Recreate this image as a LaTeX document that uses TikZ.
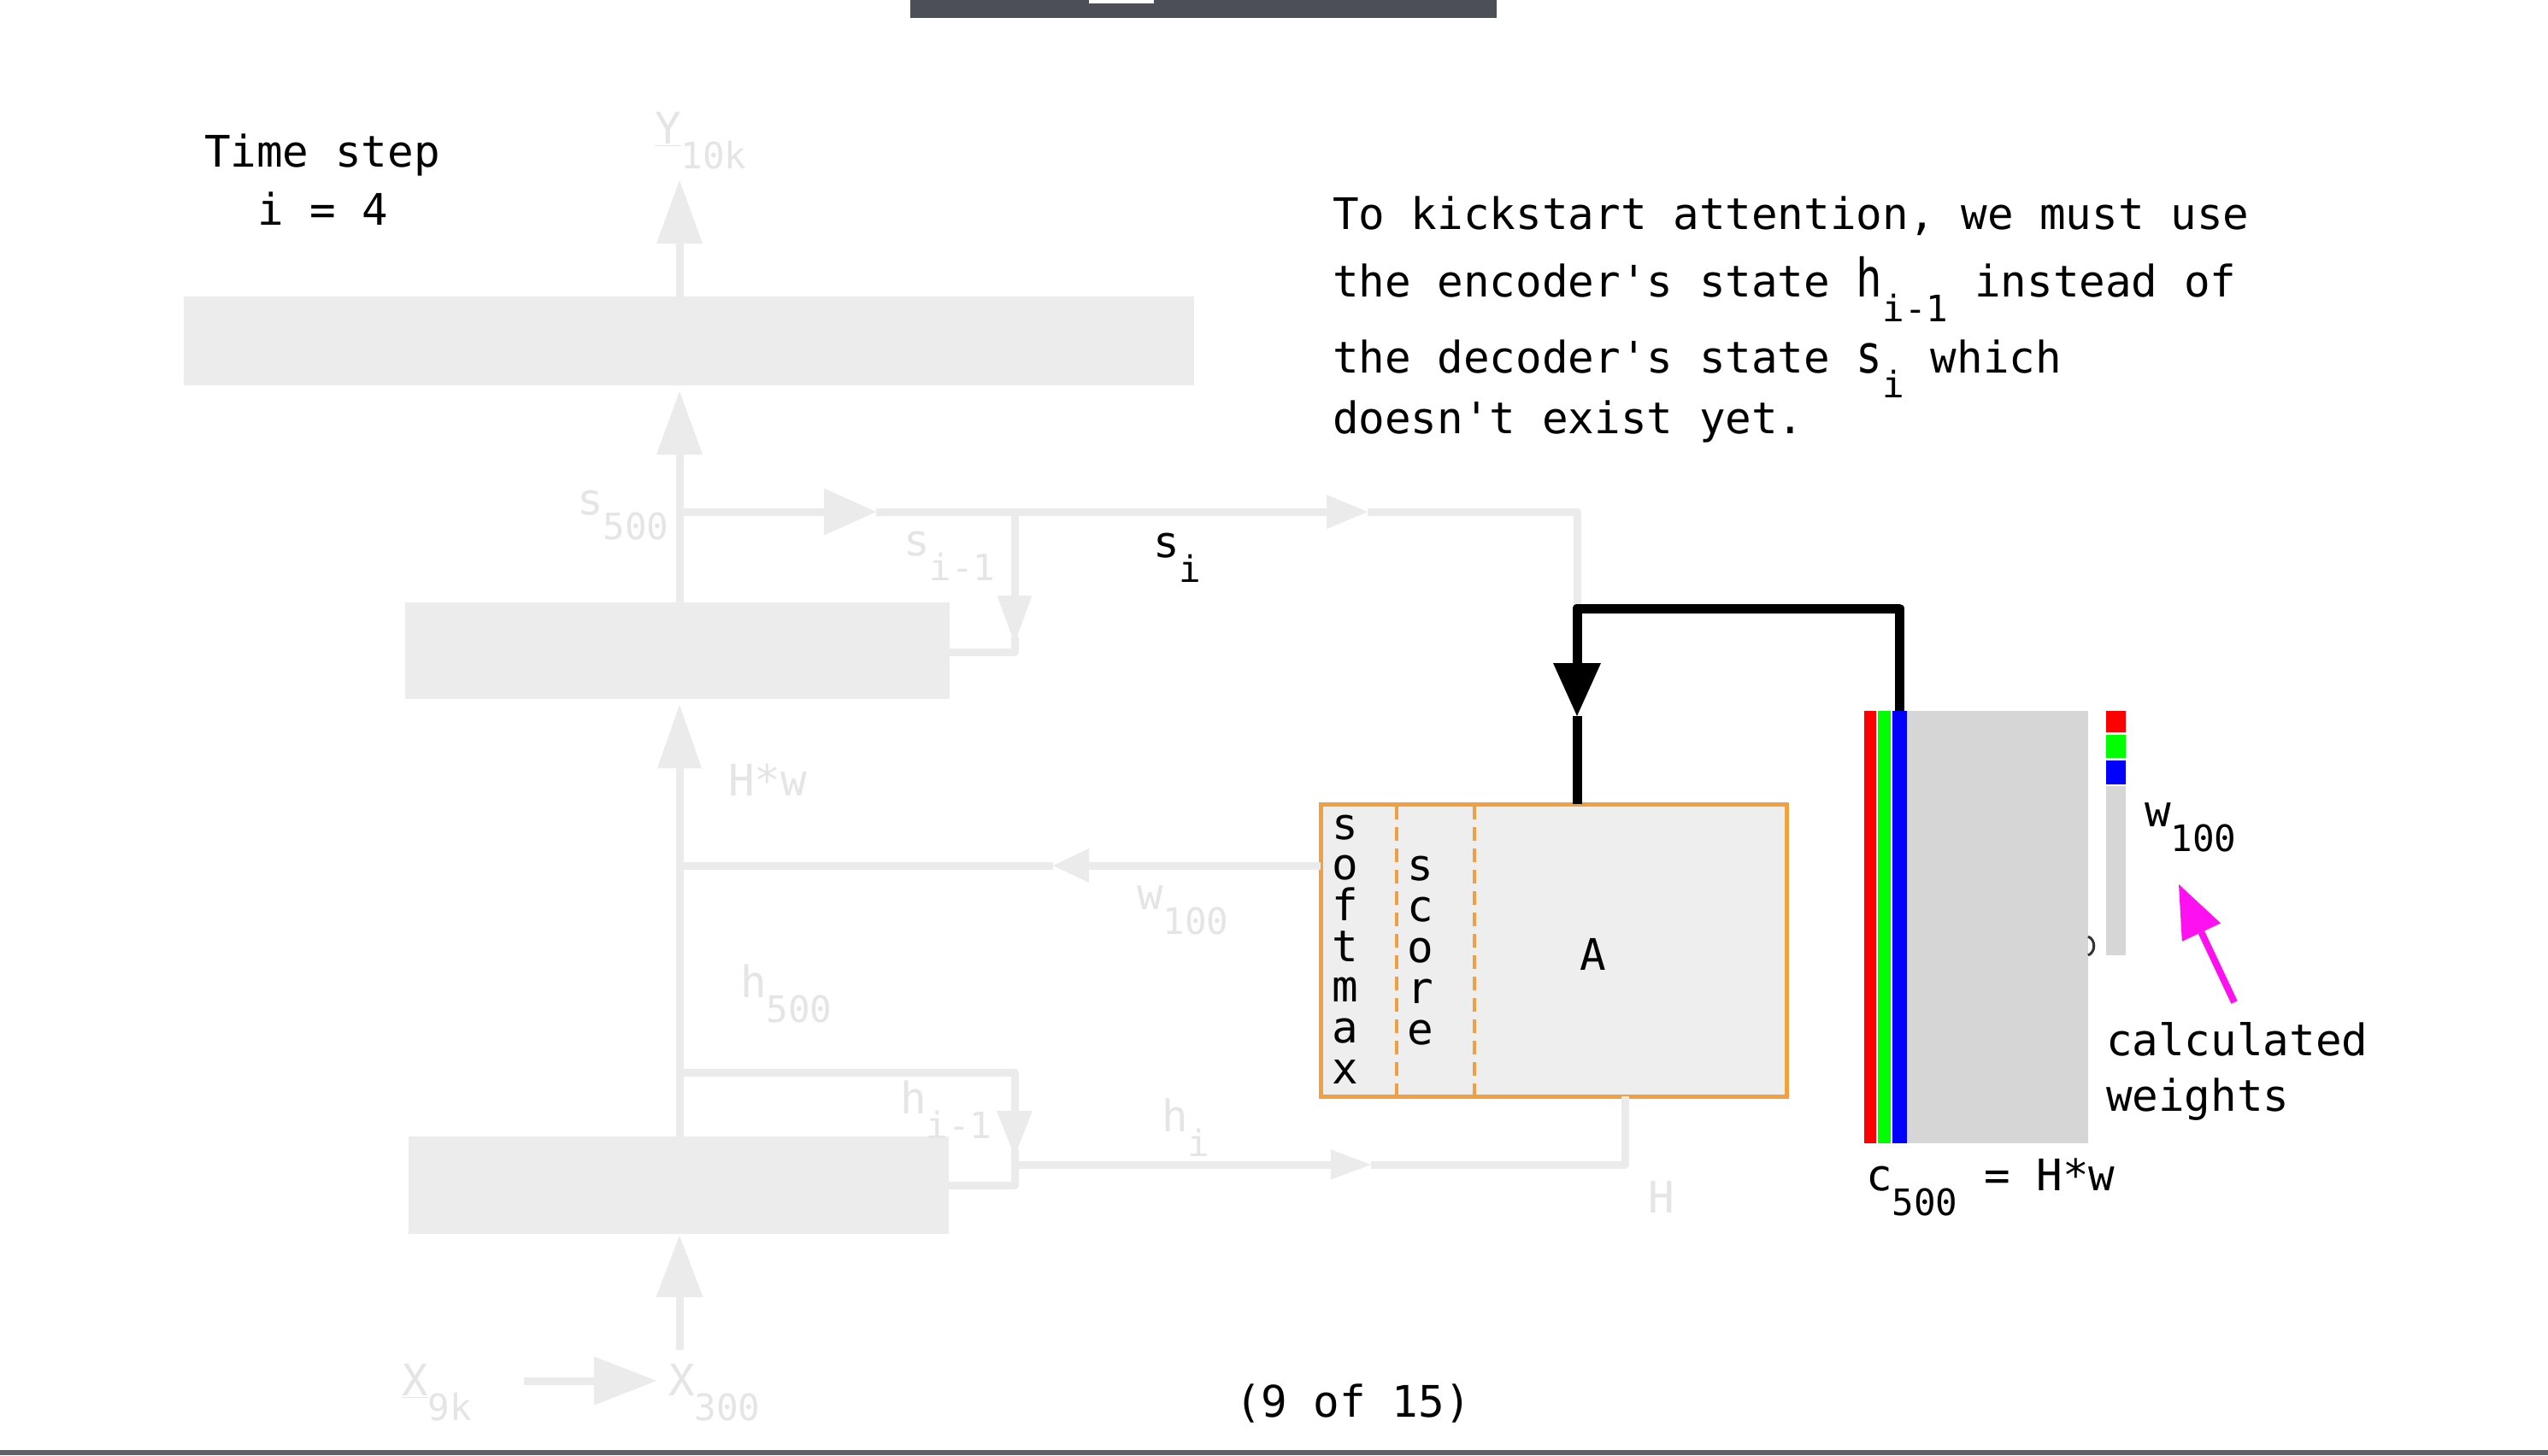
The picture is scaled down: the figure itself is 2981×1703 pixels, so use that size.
\documentclass[tikz,border=0pt]{standalone}
\usepackage{fontspec}
\setmainfont{DejaVu Sans Mono}[Ligatures=TeXOff]
\usepackage{graphicx}
\usetikzlibrary{arrows.meta}
\definecolor{faint}{HTML}{EBEBEB}
\definecolor{faintbox}{HTML}{ECECEC}
\definecolor{fainttxt}{HTML}{E5E5E5}
\definecolor{orng}{RGB}{240,160,64}
\definecolor{aboxc}{HTML}{EEEEEE}
\definecolor{matc}{HTML}{D6D6D6}
\definecolor{rdc}{RGB}{255,0,0}
\definecolor{grc}{RGB}{0,255,0}
\definecolor{blc}{RGB}{0,0,255}
\definecolor{mgn}{RGB}{255,16,240}
\definecolor{topbar}{HTML}{4C4F55}
\definecolor{botbar}{HTML}{5D6269}
\newcommand\sbs[1]{\raisebox{-14.5pt}{\fontsize{21.3pt}{21.3pt}\selectfont #1}}
\newcommand\tallch[1]{\scalebox{1}[1.22]{#1}}
\tikzset{
  txt/.style={inner sep=0pt, outer sep=0pt, anchor=base west, font=\fontsize{25.45pt}{30pt}\selectfont, text=black},
  ftxt/.style={txt, text=fainttxt},
  fbox/.style={fill=faintbox, draw=none, inner sep=0pt, outer sep=0pt},
  cell/.style={draw=none, inner sep=0pt, outer sep=0pt},
  fline/.style={draw=faint, line width=4.5pt},
  blk/.style={draw=black, line width=5.5pt, line join=round},
  tri/.style 2 args={-{Triangle[length=#1,width=#2,line width=0pt]}},
}
\begin{document}
\begin{tikzpicture}[x=0.5pt,y=-0.5pt]
\useasboundingbox (0,0) rectangle (2981,1703);
\fill[white] (0,0) rectangle (2981,1703);
% window chrome
\node[cell, fill=topbar, minimum width=343pt, minimum height=10.5pt] (tbar) at (1408,10.5) {};
\node[cell, fill=white, minimum width=38pt, minimum height=2pt] (tmark) at (1312,2) {};
\node[cell, fill=botbar, minimum width=1490.5pt, minimum height=3pt] (bbar) at (1490.5,1700) {};

% faint coordinates
\coordinate (spine) at (795,0);
\coordinate (ytip) at (795,211);
\coordinate (xin) at (795,1580);
\coordinate (x9) at (613,1616);
\coordinate (x3tip) at (768,1616);
\coordinate (sJ) at (795,599);
\coordinate (sA1) at (1025,599);
\coordinate (sJ2) at (1187,599);
\coordinate (sA2) at (1600,599);
\coordinate (sCorner) at (1845,599);
\coordinate (bend) at (1845,712);
\coordinate (sDtip) at (1187,753);
\coordinate (sDin) at (1187,745);
\coordinate (sDcorner) at (1187,763);
\coordinate (wTip) at (1232,1013);
\coordinate (wJ) at (795,1013);
\coordinate (hJ) at (795,1255);
\coordinate (hC) at (1187,1255);
\coordinate (hDtip) at (1187,1353);
\coordinate (hDin) at (1187,1345);
\coordinate (hDcorner) at (1187,1387);
\coordinate (hiJ) at (1187,1363);
\coordinate (hiTip) at (1604,1363);
\coordinate (hiCorner) at (1901,1363);

% faint boxes
\node[fbox, minimum width=591pt, minimum height=52pt] (topbox) at (806,399) {};
\node[fbox, minimum width=318.5pt, minimum height=56.5pt] (midbox) at (792.5,761.5) {};
\node[fbox, minimum width=316pt, minimum height=57pt] (botbox) at (794,1387) {};

% A box
\node[cell, fill=aboxc, draw=orng, line width=2.5pt, minimum width=272.5pt, minimum height=171pt] (Abox) at (1817.5,1112) {};
\draw[orng, line width=2.25pt, dash pattern=on 8pt off 4.5pt] (1634,943) -- (1634,1281);
\draw[orng, line width=2.25pt, dash pattern=on 8pt off 4.5pt] (1725,943) -- (1725,1281);

% faint connectors
\draw[fline, tri={37pt}{27pt}] (topbox.north -| spine) -- (ytip);
\draw[fline, tri={37pt}{27pt}, shorten >=3.5pt] (midbox.north -| spine) -- (topbox.south -| spine);
\draw[fline, tri={37pt}{26pt}, shorten >=3.5pt] (botbox.north -| spine) -- (midbox.south -| spine);
\draw[fline, tri={36pt}{27.5pt}, shorten >=1pt] (xin) -- (botbox.south -| spine);
\draw[fline, tri={36.5pt}{28.5pt}] (x9) -- (x3tip);
\draw[fline, tri={30.5pt}{27.5pt}] (sJ) -- (sA1);
\draw[fline, tri={24pt}{20pt}] (sA1) -- (sA2);
\draw[fline, line join=round] (sA2) -- (sCorner) -- (bend);
\draw[fline, tri={28pt}{20.5pt}] (sJ2) -- (sDtip);
\draw[fline, line join=round] (sDin) -- (sDcorner) -- (midbox.east |- sDcorner);
\draw[fline, tri={21pt}{20pt}] (Abox.west |- wTip) -- (wTip);
\draw[fline] (wTip) -- (wJ);
\draw[fline, line join=round, tri={26.5pt}{21pt}] (hJ) -- (hC) -- (hDtip);
\draw[fline, line join=round] (hDin) -- (hDcorner) -- (botbox.east |- hDcorner);
\draw[fline, tri={23.5pt}{17.5pt}] (hiJ) -- (hiTip);
\draw[fline, line join=round] (hiTip) -- (hiCorner) -- (Abox.south -| hiCorner);

% faint labels
\node[ftxt] (ylab) at (766,168) {\underline{Y}\sbs{10k}};
\node[ftxt] (s500) at (675,602) {s\sbs{500}};
\node[ftxt] (sim1) at (1057,650) {s\sbs{i-1}};
\node[ftxt] (hwlab) at (852,931) {H*w};
\node[ftxt] (w100f) at (1330,1064) {w\sbs{100}};
\node[ftxt] (h500) at (866,1167) {h\sbs{500}};
\node[ftxt] (him1) at (1053,1303) {h\sbs{i-1}};
\node[ftxt] (hilab) at (1359,1324) {h\sbs{i}};
\node[ftxt] (Hlab) at (1928,1419) {H};
\node[ftxt] (x9lab) at (470,1633) {\underline{X}\sbs{9k}};
\node[ftxt] (x300) at (782,1633) {X\sbs{300}};

% matrix c and vector w
\node[cell, fill=rdc, minimum width=7pt, minimum height=253pt] (red) at (2188,1085) {};
\node[cell, fill=grc, minimum width=7.5pt, minimum height=253pt] (green) at (2204.5,1085) {};
\node[cell, fill=blc, minimum width=8.5pt, minimum height=253pt] (blue) at (2222.5,1085) {};
\node[cell, fill=matc, minimum width=106pt, minimum height=253pt] (hmat) at (2337,1085) {};
\node[cell, fill=rdc, minimum width=11.5pt, minimum height=12.5pt] (wred) at (2475.5,844.5) {};
\node[cell, fill=grc, minimum width=11.5pt, minimum height=13.5pt] (wgreen) at (2475.5,873.5) {};
\node[cell, fill=blc, minimum width=11.5pt, minimum height=14pt] (wblue) at (2475.5,904) {};
\node[cell, fill=matc, minimum width=11.5pt, minimum height=99pt] (wgray) at (2475.5,1019) {};
\draw[black!80, line width=1.5pt] (2443,1096) .. controls (2452,1100) and (2452,1114) .. (2443,1118);

% black connector
\coordinate (atip) at (1845,838);
\draw[blk, tri={31pt}{28pt}] (blue.north) |- (bend) -- (atip);
\draw[blk] (atip) -- (Abox.north -| atip);

% A box texts
\node[txt] (smx) at (1558.5,982) {\vtop{\baselineskip=23.85pt\lineskiplimit=-50pt\lineskip=0pt\hbox{s}\hbox{o}\hbox{f}\hbox{t}\hbox{m}\hbox{a}\hbox{x}}};
\node[txt] (scr) at (1646.5,1030) {\vtop{\baselineskip=24pt\lineskiplimit=-50pt\lineskip=0pt\hbox{s}\hbox{c}\hbox{o}\hbox{r}\hbox{e}}};
\node[txt] (alab) at (1848.5,1135) {A};

% magenta arrow
\coordinate (mtail) at (2614,1173);
\coordinate (mtip) at (2549,1035);
\draw[draw=mgn, line width=4pt, tri={31pt}{25pt}] (mtail) -- (mtip);

% black texts
\node[txt] (ts) at (239,195) {Time step};
\node[txt] (ieq) at (301,263) {i = 4};
\node[txt] (l1) at (1559,268) {To kickstart attention, we must use};
\node[txt] (l2) at (1559,347) {the encoder's state \tallch{h}\sbs{i-1} instead of};
\node[txt] (l3) at (1559,436) {the decoder's state \tallch{s}\sbs{i} which};
\node[txt] (l4) at (1559,507) {doesn't exist yet.};
\node[txt] (si) at (1349,652) {s\sbs{i}};
\node[txt] (w100) at (2509,967) {w\sbs{100}};
\node[txt] (calc) at (2464,1235) {calculated};
\node[txt] (wts) at (2464,1300) {weights};
\node[txt] (c500) at (2183,1393) {c\sbs{500} = H*w};
\node[txt] (pg) at (1445,1658) {(9 of 15)};
\end{tikzpicture}
\end{document}
